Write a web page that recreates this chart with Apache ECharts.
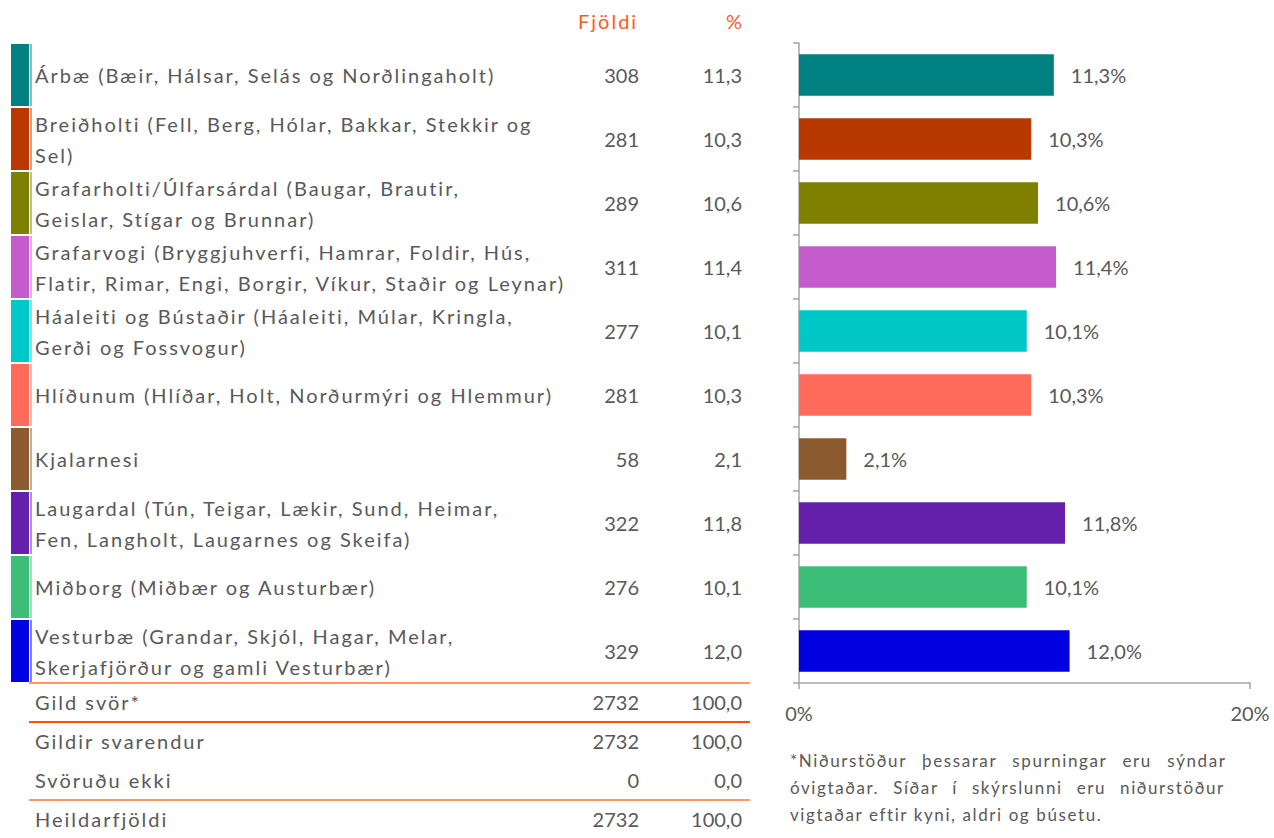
<!DOCTYPE html>
<html>
<head>
<meta charset="utf-8">
<script src="https://cdn.jsdelivr.net/npm/echarts@6/dist/echarts.min.js"></script>
<style>
  html, body { margin: 0; padding: 0; background: #fff; }
  #chart { width: 1274px; height: 838px; }
  /* texti í frumriti er gisinn */
  #chart text[style*="LatoSp"] { letter-spacing: 2px; }
  #chart text[style*="LatoFn"] { letter-spacing: 1.6px; }
  #chart text[style*="LatoJa"] { letter-spacing: 1.6px; word-spacing: 9.5px; }
  #chart text[style*="LatoJb"] { letter-spacing: 1.6px; word-spacing: 8px; }
</style>
</head>
<body>
<div id="chart"></div>
<script>
// hverfi, fjöldi og hlutfall
var hverfi = [
    'Árbæ (Bæir, Hálsar, Selás og Norðlingaholt)',
    'Breiðholti (Fell, Berg, Hólar, Bakkar, Stekkir og\nSel)',
    'Grafarholti/Úlfarsárdal (Baugar, Brautir,\nGeislar, Stígar og Brunnar)',
    'Grafarvogi (Bryggjuhverfi, Hamrar, Foldir, Hús,\nFlatir, Rimar, Engi, Borgir, Víkur, Staðir og Leynar)',
    'Háaleiti og Bústaðir (Háaleiti, Múlar, Kringla,\nGerði og Fossvogur)',
    'Hlíðunum (Hlíðar, Holt, Norðurmýri og Hlemmur)',
    'Kjalarnesi',
    'Laugardal (Tún, Teigar, Lækir, Sund, Heimar,\nFen, Langholt, Laugarnes og Skeifa)',
    'Miðborg (Miðbær og Austurbær)',
    'Vesturbæ (Grandar, Skjól, Hagar, Melar,\nSkerjafjörður og gamli Vesturbær)'
];
var fjoldi = [308, 281, 289, 311, 277, 281, 58, 322, 276, 329];
var hlutfall = [11.3, 10.3, 10.6, 11.4, 10.1, 10.3, 2.1, 11.8, 10.1, 12.0];
var litir = ['#008080', '#B83800', '#808000', '#C45CCC', '#00C8C8',
             '#FF6A5A', '#8B5A2E', '#6420AA', '#3CBE78', '#0000E0'];

var samtalsHeiti = ['Gild svör*', 'Gildir svarendur', 'Svöruðu ekki', 'Heildarfjöldi'];
var samtalsFjoldi = [2732, 2732, 0, 2732];
var samtalsHlutfall = [100.0, 100.0, 0.0, 100.0];

var xTicks = [0, 20];

var nedanmals = [
    '*Niðurstöður þessarar spurningar eru sýndar',
    'óvigtaðar. Síðar í skýrslunni eru niðurstöður',
    'vigtaðar eftir kyni, aldri og búsetu.'
];

var FONT = 'Lato';
var NAME_FONT = 'LatoSp, Lato';
var TXT = '#595959';
var ORANGE = '#FF5A1E';

function komma(v) {
    return v.toFixed(1).replace('.', ',');
}

var chart = echarts.init(document.getElementById('chart'), null, { renderer: 'svg' });

var swatch = function (val, transparent) {
    return hlutfall.map(function (p, i) {
        return { value: val, itemStyle: { color: transparent ? 'rgba(0,0,0,0)' : litir[i] } };
    });
};

function labelAxis(grid, pos, data, align, margin, font) {
    return {
        gridIndex: grid, type: 'category', inverse: true, position: pos, data: data,
        axisLine: { show: false }, axisTick: { show: false },
        axisLabel: {
            interval: 0, align: align, margin: margin, color: TXT,
            fontSize: 20, lineHeight: 31, fontFamily: font || FONT
        }
    };
}

var nameAxis = labelAxis(2, 'left', samtalsHeiti, 'left', -6, NAME_FONT);
nameAxis.splitLine = {
    show: true,
    lineStyle: { width: 2, color: ['#FF9966', '#FF5010', 'rgba(0,0,0,0)', '#FF9966', 'rgba(0,0,0,0)'] }
};

var option = {
    animation: false,
    textStyle: { fontFamily: FONT },
    grid: [
        { left: 799, top: 43, width: 451, height: 640 },
        { left: 11, top: 43, width: 20.5, height: 640 },
        { left: 29, top: 683, width: 721, height: 160 }
    ],
    xAxis: [
        {
            gridIndex: 0, type: 'value', min: xTicks[0], max: xTicks[1], interval: 20,
            axisLine: { show: true, lineStyle: { color: '#a6a6a6', width: 1.5 } },
            axisTick: { show: true, length: 6, lineStyle: { color: '#a6a6a6', width: 1.5 } },
            splitLine: { show: false },
            axisLabel: { formatter: '{value}%', color: TXT, fontSize: 20, fontFamily: FONT, margin: 20 }
        },
        { gridIndex: 1, type: 'value', min: 0, max: 20.5, show: false },
        { gridIndex: 2, type: 'value', min: 0, max: 1, show: false }
    ],
    yAxis: [
        {
            gridIndex: 0, type: 'category', inverse: true, data: hverfi,
            axisLine: { show: true, lineStyle: { color: '#a6a6a6', width: 1.5 } },
            axisTick: { show: true, length: 6, lineStyle: { color: '#a6a6a6', width: 1.5 } },
            axisLabel: { show: false }
        },
        labelAxis(1, 'right', hverfi, 'left', 3.5, NAME_FONT),
        labelAxis(1, 'right', fjoldi.map(String), 'right', 607.5),
        labelAxis(1, 'right', hlutfall.map(komma), 'right', 710.5),
        nameAxis,
        labelAxis(2, 'right', samtalsFjoldi.map(String), 'right', -111),
        labelAxis(2, 'right', samtalsHlutfall.map(komma), 'right', -8)
    ],
    series: [
        {
            type: 'bar', xAxisIndex: 0, yAxisIndex: 0,
            barCategoryGap: '35%',
            data: hlutfall.map(function (p, i) {
                return { value: p, itemStyle: { color: litir[i] } };
            }),
            label: {
                show: true, position: 'right', distance: 17,
                color: TXT, fontSize: 20, fontFamily: FONT,
                formatter: function (p) { return komma(p.value) + '%'; }
            }
        },
        { type: 'bar', xAxisIndex: 1, yAxisIndex: 1, stack: 'lit', barCategoryGap: '3%', data: swatch(18, false) },
        { type: 'bar', xAxisIndex: 1, yAxisIndex: 1, stack: 'lit', barCategoryGap: '3%', data: swatch(1.5, true) },
        { type: 'bar', xAxisIndex: 1, yAxisIndex: 1, stack: 'lit', barCategoryGap: '3%', data: swatch(1, false) }
    ],
    graphic: [
        {
            type: 'text', left: 578, top: 11,
            style: { text: 'Fjöldi', fill: ORANGE, fontSize: 20, fontFamily: NAME_FONT }
        },
        {
            type: 'text', right: 1274 - 742, top: 11,
            style: { text: '%', fill: ORANGE, fontSize: 20, fontFamily: FONT, align: 'right' }
        },
        {
            type: 'text', left: 790, top: 752,
            style: { text: nedanmals[0], fill: TXT, fontSize: 17, fontFamily: 'LatoJa, Lato' }
        },
        {
            type: 'text', left: 790, top: 779,
            style: { text: nedanmals[1], fill: TXT, fontSize: 17, fontFamily: 'LatoJb, Lato' }
        },
        {
            type: 'text', left: 790, top: 806,
            style: { text: nedanmals[2], fill: TXT, fontSize: 17, fontFamily: 'LatoFn, Lato' }
        }
    ]
};

chart.setOption(option);
</script>
</body>
</html>
